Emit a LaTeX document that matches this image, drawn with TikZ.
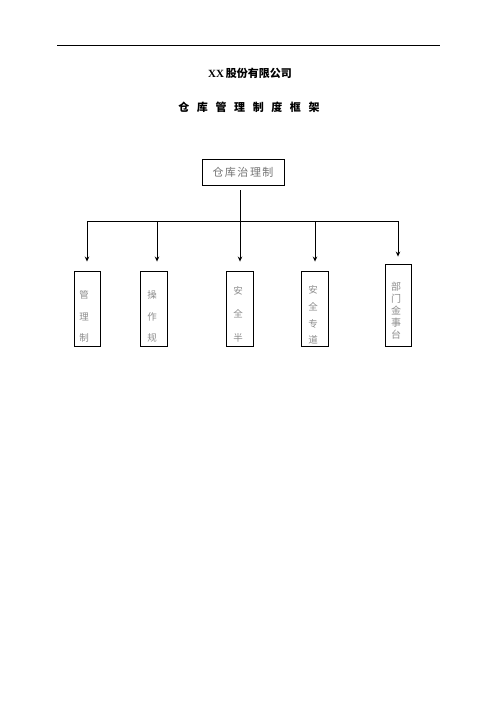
\documentclass[tikz,border=0pt]{standalone}
\usepackage{fontspec}
\setmainfont{Liberation Serif}
\newfontfamily\cjk{Noto Sans CJK SC}
\usetikzlibrary{arrows.meta,calc}
\begin{document}
\begin{tikzpicture}[x=1pt,y=-1pt,
  conn/.style={line width=0.8pt},
  arr/.style={conn,-{Stealth[length=5pt,width=4.5pt]}},
  leaf/.style={draw,line width=0.9pt,minimum width=26.5pt,inner sep=0pt},
  leaftxt/.style={inner sep=0pt,align=center,text=black!45}
]
\useasboundingbox (0,0) rectangle (496,702);
% header rule
\draw[line width=0.8pt] (57,45) -- (440,45);
% titles
\node[font=\fontsize{11}{11}\selectfont] (title) at (250,73) {\textbf{XX}\,{\cjk\bfseries 股份有限公司}};
\node[font=\cjk\bfseries\fontsize{11}{11}\selectfont] (sub) at (249,107)
  {仓\hspace{7.6pt}库\hspace{7.6pt}管\hspace{7.6pt}理\hspace{7.6pt}制\hspace{7.6pt}度\hspace{7.6pt}框\hspace{7.6pt}架};
% root
\node[draw,line width=0.9pt,minimum width=82pt,minimum height=26pt,inner sep=0pt,
      font=\cjk\fontsize{11}{11}\selectfont,text=black!55] (root) at (243,172)
  {仓\kern1.5pt 库\kern1.5pt 治\kern1.5pt 理\kern1.5pt 制};
% junctions
\coordinate (j0) at (240,221);
\coordinate (h1) at (87,221);
\coordinate (h2) at (157,221);
\coordinate (h4) at (315,221);
\coordinate (h5) at (398,221);
% leaves
\node[leaf,minimum height=75pt] (b1) at (87.5,308.5) {};
\node[leaf,minimum height=75pt] (b2) at (154,308.5) {};
\node[leaf,minimum height=75pt] (b3) at (240,308.5) {};
\node[leaf,minimum height=75pt] (b4) at (315,308.5) {};
\node[leaf,minimum height=82pt] (b5) at (398.5,305) {};
\node[leaftxt,font=\cjk\fontsize{9.5}{21.5}\selectfont] (t1) at (84,316.5) {管\\理\\制};
\node[leaftxt,font=\cjk\fontsize{9.5}{21.5}\selectfont] (t2) at (152,316.5) {操\\作\\规};
\node[leaftxt,font=\cjk\fontsize{9.5}{23.5}\selectfont] (t3) at (238,314) {安\\全\\半};
\node[leaftxt,font=\cjk\fontsize{9.5}{16.7}\selectfont] (t4) at (313,315) {安\\全\\专\\道};
\node[leaftxt,font=\cjk\fontsize{10}{12}\selectfont] (t5) at (396,311) {部\\门\\金\\事\\台};
% connectors
\draw[conn,shorten <=5pt] (root.south -| j0) -- (j0);
\draw[conn] (h1) -- (h5);
\draw[arr,shorten >=9pt] (h1) -- (b1.north -| h1);
\draw[arr,shorten >=9pt] (h2) -- (b2.north -| h2);
\draw[arr,shorten >=9pt] (j0) -- (b3.north);
\draw[arr,shorten >=9pt] (h4) -- (b4.north -| h4);
\draw[arr,shorten >=7pt] (h5) -- (b5.north -| h5);
\end{tikzpicture}
\end{document}
